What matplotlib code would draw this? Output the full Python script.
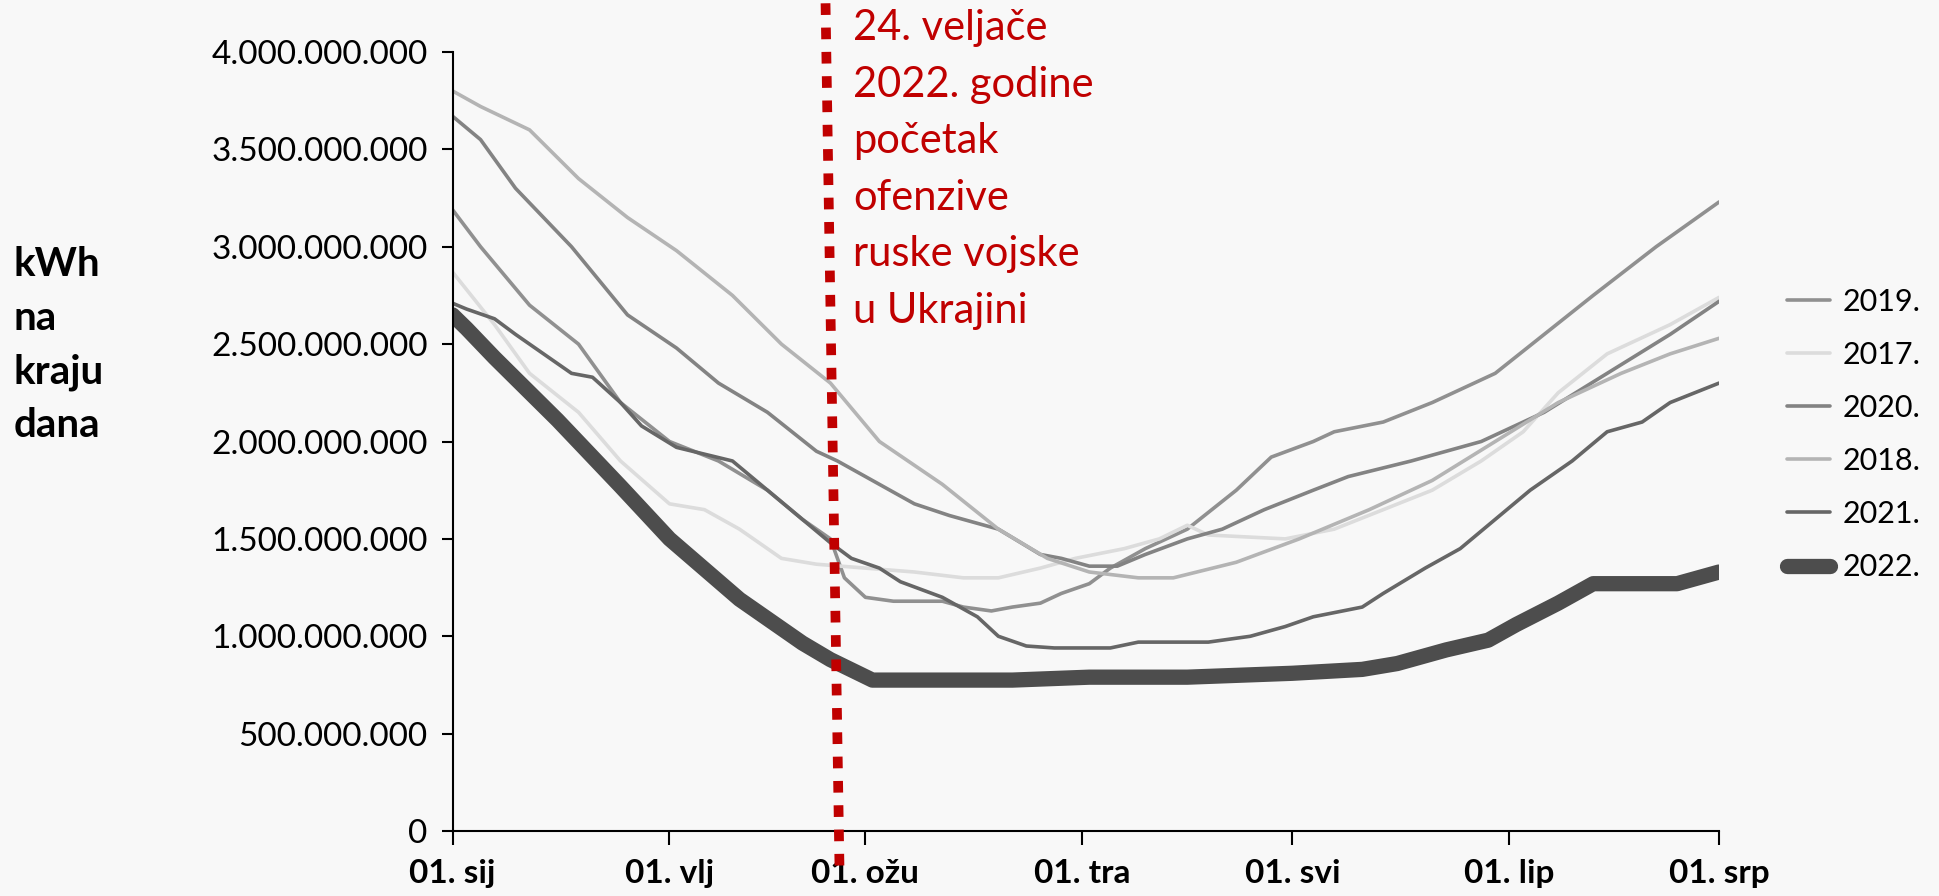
import matplotlib.pyplot as plt
from matplotlib.ticker import FuncFormatter

plt.rcParams['font.family'] = ['Lato', 'DejaVu Sans']

# dani od 1. siječnja, vrijednosti u milijardama kWh
d2019 = [0, 4, 11, 18, 24, 31, 38, 45, 50, 54, 56, 59, 63, 70, 73, 77, 80, 84, 87, 91, 94, 99, 105, 112, 117, 123, 126, 133, 140, 149, 156, 163, 172, 181]
v2019 = [3.19, 3.0, 2.7, 2.5, 2.2, 2.0, 1.9, 1.75, 1.6, 1.5, 1.3, 1.2, 1.18, 1.18, 1.15, 1.13, 1.15, 1.17, 1.22, 1.27, 1.35, 1.45, 1.55, 1.75, 1.92, 2.0, 2.05, 2.1, 2.2, 2.35, 2.55, 2.75, 3.0, 3.23]

d2017 = [0, 6, 11, 18, 24, 31, 36, 41, 47, 52, 59, 66, 73, 78, 84, 89, 96, 101, 105, 108, 119, 126, 133, 140, 147, 153, 158, 165, 174, 181]
v2017 = [2.87, 2.6, 2.35, 2.15, 1.9, 1.68, 1.65, 1.55, 1.4, 1.37, 1.35, 1.33, 1.3, 1.3, 1.35, 1.4, 1.45, 1.5, 1.57, 1.52, 1.5, 1.55, 1.65, 1.75, 1.9, 2.05, 2.25, 2.45, 2.6, 2.74]

d2020 = [0, 4, 9, 17, 25, 32, 38, 45, 52, 55, 61, 66, 71, 78, 84, 87, 91, 95, 99, 105, 110, 116, 123, 128, 137, 147, 156, 165, 174, 181]
v2020 = [3.67, 3.55, 3.3, 3.0, 2.65, 2.48, 2.3, 2.15, 1.95, 1.9, 1.78, 1.68, 1.62, 1.55, 1.42, 1.4, 1.36, 1.36, 1.42, 1.5, 1.55, 1.65, 1.75, 1.82, 1.9, 2.0, 2.15, 2.35, 2.55, 2.72]

d2018 = [0, 4, 11, 18, 25, 32, 40, 47, 54, 61, 70, 78, 85, 91, 98, 103, 112, 121, 131, 140, 149, 158, 167, 174, 181]
v2018 = [3.8, 3.72, 3.6, 3.35, 3.15, 2.98, 2.75, 2.5, 2.3, 2.0, 1.78, 1.55, 1.4, 1.33, 1.3, 1.3, 1.38, 1.5, 1.65, 1.8, 2.0, 2.2, 2.35, 2.45, 2.53]

d2021 = [0, 2, 6, 9, 13, 17, 20, 24, 27, 32, 40, 45, 50, 54, 57, 61, 64, 70, 75, 78, 82, 86, 94, 98, 108, 114, 119, 123, 130, 133, 139, 144, 149, 154, 160, 165, 170, 174, 181]
v2021 = [2.71, 2.68, 2.63, 2.55, 2.45, 2.35, 2.33, 2.2, 2.08, 1.97, 1.9, 1.75, 1.6, 1.48, 1.4, 1.35, 1.28, 1.2, 1.1, 1.0, 0.95, 0.94, 0.94, 0.97, 0.97, 1.0, 1.05, 1.1, 1.15, 1.22, 1.35, 1.45, 1.6, 1.75, 1.9, 2.05, 2.1, 2.2, 2.3]

d2022 = [0, 2, 6, 15, 24, 31, 41, 50, 54, 60, 80, 91, 105, 120, 130, 135, 142, 148, 152, 158, 163, 175, 181]
v2022 = [2.65, 2.58, 2.43, 2.11, 1.77, 1.5, 1.19, 0.965, 0.88, 0.775, 0.775, 0.79, 0.79, 0.81, 0.83, 0.86, 0.93, 0.98, 1.06, 1.17, 1.27, 1.27, 1.33]

tick_days = [0, 31, 59, 90, 120, 151, 181]
tick_labels = ['01. sij', '01. vlj', '01. ožu', '01. tra', '01. svi', '01. lip', '01. srp']

bg = '#f8f8f8'
fig = plt.figure(figsize=(19.39, 8.96), dpi=100, facecolor=bg)
ax = fig.add_axes([0.2334, 0.0725, 0.6532, 0.8695], facecolor=bg)

series = [
    ('2019.', d2019, v2019, '#909090', 2.6),
    ('2017.', d2017, v2017, '#dcdcdc', 2.6),
    ('2020.', d2020, v2020, '#838383', 2.6),
    ('2018.', d2018, v2018, '#b4b4b4', 2.6),
    ('2021.', d2021, v2021, '#666666', 2.6),
    ('2022.', d2022, v2022, '#4d4d4d', 11),
]
for lab, dd, vv, col, lw in series:
    ax.plot(dd, [v * 1e9 for v in vv], color=col, lw=lw, label=lab,
            solid_capstyle='round', solid_joinstyle='round')

ax.set_xlim(0, 181)
ax.set_ylim(0, 4e9)
ax.set_yticks([i * 5e8 for i in range(9)])
ax.yaxis.set_major_formatter(FuncFormatter(lambda v, p: f'{int(v):,}'.replace(',', '.')))
ax.set_xticks(tick_days)
ax.set_xticklabels(tick_labels, fontweight='bold')
ax.tick_params(axis='y', labelsize=24, length=8, width=1.5, pad=10)
ax.tick_params(axis='x', labelsize=24, length=10, width=1.5, pad=10)
for s in ['top', 'right']:
    ax.spines[s].set_visible(False)
for s in ['left', 'bottom']:
    ax.spines[s].set_linewidth(1.5)

# crvena linija 24. veljače
ax.plot([53.3, 55.3], [4.25e9, -0.2e9], color='#c00000', lw=7,
        linestyle=(0, (1.2, 1.3)), dash_capstyle='butt', clip_on=False, zorder=5)
fig.text(0.44, 0.99, '24. veljače\n2022. godine\npočetak\nofenzive\nruske vojske\nu Ukrajini',
         color='#c00000', fontsize=30, va='top', ha='left', linespacing=1.6)

fig.text(0.007, 0.725, 'kWh\nna\nkraju\ndana', fontsize=29, fontweight='bold',
         va='top', ha='left', linespacing=1.55)

fig.legend(loc='center left', bbox_to_anchor=(0.9155, 0.515), frameon=False,
           borderaxespad=0, fontsize=22, handlelength=1.4, handletextpad=0.42,
           labelspacing=0.82)

fig.savefig('out.png', dpi=100, facecolor=bg)
